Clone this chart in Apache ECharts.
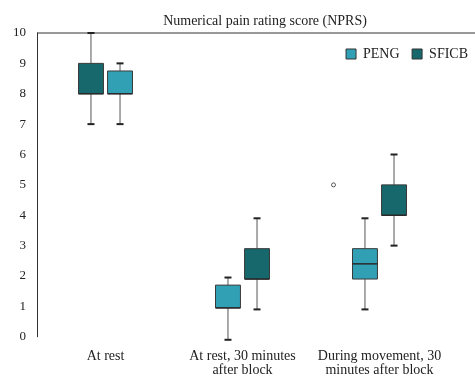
<!DOCTYPE html>
<html><head><meta charset="utf-8">
<script src="https://cdn.jsdelivr.net/npm/echarts@6/dist/echarts.min.js"></script>
<style>html,body{margin:0;padding:0;background:#fff}#c{width:475px;height:377px}</style>
</head><body><div id="c"></div>
<script>
const categories = ['At rest', 'At rest, 30 minutes\nafter block', 'During movement, 30\nminutes after block'];
// [min, Q1, median, Q3, max]
const PENG = [
  [7, 8, 8, 8.75, 9],
  [-0.1, 0.95, 0.95, 1.7, 1.95],
  [0.9, 1.9, 2.4, 2.9, 3.9]
];
const SFICB = [
  [7, 8, 8, 9, 10],
  [0.9, 1.9, 1.9, 2.9, 3.9],
  [3, 4, 4, 5, 6]
];
const outliers = [[2, 5]];
const yTicks = [0, 10, 1];

const colPENG = '#31a0b5', colSFICB = '#17686c';
// side of each box within its category (-1 left, +1 right)
const sidePENG = [1, -1, -1];
const sideSFICB = [-1, 1, 1];

function makeRender(color, side) {
  return function (params, api) {
    const i = api.value(0);
    const band = api.size([1, 0])[0];
    const cx = api.coord([i, 0])[0] + side[i] * band * 0.106;
    const hw = band * 0.091;
    const cw = 3.5;
    const y = k => api.coord([i, api.value(k)])[1];
    const yMin = y(1), yQ1 = y(2), yMed = y(3), yQ3 = y(4), yMax = y(5);
    const wl = { stroke: '#555', lineWidth: 1 };
    const cap = { stroke: '#222', lineWidth: 2 };
    return {
      type: 'group',
      children: [
        { type: 'line', shape: { x1: cx, y1: yQ3, x2: cx, y2: yMax }, style: wl },
        { type: 'line', shape: { x1: cx, y1: yQ1, x2: cx, y2: yMin }, style: wl },
        { type: 'line', shape: { x1: cx - cw, y1: yMax, x2: cx + cw, y2: yMax }, style: cap },
        { type: 'line', shape: { x1: cx - cw, y1: yMin, x2: cx + cw, y2: yMin }, style: cap },
        { type: 'rect', shape: { x: cx - hw, y: yQ3, width: hw * 2, height: yQ1 - yQ3 },
          style: { fill: color, stroke: '#3a3a3a', lineWidth: 1 } },
        { type: 'line', shape: { x1: cx - hw, y1: yMed, x2: cx + hw, y2: yMed },
          style: { stroke: '#2a2a2a', lineWidth: 1.5 } }
      ]
    };
  };
}

const toData = arr => arr.map((v, i) => [i].concat(v));
const font = 'Liberation Serif';

const chart = echarts.init(document.getElementById('c'), null, { renderer: 'canvas' });
chart.setOption({
  animation: false,
  textStyle: { fontFamily: font },
  title: {
    text: 'Numerical pain rating score (NPRS)',
    left: 260, top: 9, textAlign: 'center',
    textStyle: { fontFamily: font, fontSize: 14, fontWeight: 'normal', color: '#222' }
  },
  legend: {
    data: [
      { name: 'PENG', itemStyle: { color: colPENG, borderColor: '#333', borderWidth: 1 } },
      { name: 'SFICB', itemStyle: { color: colSFICB, borderColor: '#333', borderWidth: 1 } }
    ],
    icon: 'rect', right: 2, top: 42, itemWidth: 10, itemHeight: 10, itemGap: 12,
    textStyle: { fontFamily: font, fontSize: 14, color: '#222', padding: [0, 0, 0, 2] }
  },
  grid: { left: 37, top: 33, right: 27, bottom: 38, containLabel: false },
  xAxis: {
    type: 'category', data: categories,
    axisLine: { show: false }, axisTick: { show: false },
    axisLabel: { fontFamily: font, fontSize: 14, color: '#222', margin: 13, lineHeight: 13.5, interval: 0 }
  },
  yAxis: {
    type: 'value', min: yTicks[0], max: yTicks[1], interval: yTicks[2],
    axisLine: { show: true, lineStyle: { color: '#333', width: 1 } },
    axisTick: { show: false }, splitLine: { show: false },
    axisLabel: { fontFamily: font, fontSize: 13, color: '#222', margin: 11 }
  },
  graphic: [
    { type: 'line', shape: { x1: 37, y1: 33, x2: 475, y2: 33 }, style: { stroke: '#333', lineWidth: 1 } }
  ],
  series: [
    { name: 'PENG', type: 'custom', renderItem: makeRender(colPENG, sidePENG),
      itemStyle: { color: colPENG }, encode: { x: 0, y: [1, 2, 3, 4, 5] }, data: toData(PENG), clip: false },
    { name: 'SFICB', type: 'custom', renderItem: makeRender(colSFICB, sideSFICB),
      itemStyle: { color: colSFICB }, encode: { x: 0, y: [1, 2, 3, 4, 5] }, data: toData(SFICB), clip: false },
    { name: 'outlier', type: 'scatter', data: outliers, symbol: 'circle', symbolSize: 4,
      symbolOffset: [-46, 0], itemStyle: { color: '#fff', borderColor: '#333', borderWidth: 1 } }
  ]
});
</script></body></html>
